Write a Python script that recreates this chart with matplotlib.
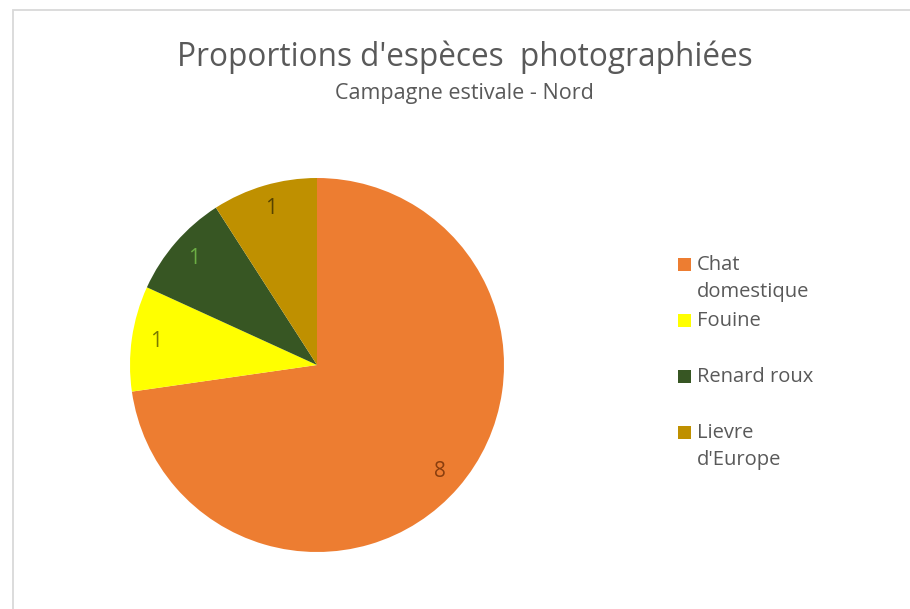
import textwrap
import matplotlib
matplotlib.use("Agg")
import matplotlib.pyplot as plt
from matplotlib.patches import Rectangle

categories = ["Chat domestique", "Fouine", "Renard roux", "Lievre d'Europe"]
values = [8, 1, 1, 1]
colors = ["#ED7D31", "#FFFF00", "#375623", "#BF9000"]
label_colors = ["#8A3E0E", "#7A7A00", "#6CAE44", "#574300"]
title = "Proportions d'espèces  photographiées"
subtitle = "Campagne estivale - Nord"

W, H = 910, 609
fig = plt.figure(figsize=(W / 100, H / 100), dpi=100)
plt.rcParams['font.family'] = ['Open Sans', 'DejaVu Sans']

def fx(px):
    return px / W

def fy(py):
    return 1 - py / H

# border (top and left edges visible; the rest runs off the image)
fig.patches.append(Rectangle((fx(13), fy(H + 20)), fx(W + 20), (H - 10 + 20) / H,
                             transform=fig.transFigure, fill=False, edgecolor="#D9D9D9", lw=1.3))

cx, cy, r = 317, 365, 187
ax = fig.add_axes([fx(cx - r), fy(cy + r), 2 * r / W, 2 * r / H])
wedges, texts = ax.pie(values, colors=colors, startangle=90, counterclock=False,
                       labels=[str(v) for v in values], labeldistance=0.87,
                       wedgeprops=dict(linewidth=0),
                       textprops=dict(fontsize=15))
for t, c in zip(texts, label_colors):
    t.set_color(c)
    t.set_ha("center")
    t.set_va("center")
ax.set_xlim(-1, 1)
ax.set_ylim(-1, 1)
ax.set_aspect("equal")

fig.text(fx(465), fy(57), title, ha="center", va="center", fontsize=22.7, color="#595959")
fig.text(fx(464), fy(93), subtitle, ha="center", va="center", fontsize=15.5, color="#595959")

# legend
for i, (cat, col) in enumerate(zip(categories, colors)):
    y = 264.5 + 56 * i
    fig.patches.append(Rectangle((fx(678), fy(y + 6.5)), fx(13), 13 / H,
                                 transform=fig.transFigure, facecolor=col, edgecolor="none"))
    fig.text(fx(697), fy(y - 9), textwrap.fill(cat, 11), ha="left", va="top",
             fontsize=14.5, color="#595959", linespacing=1.45)

fig.savefig("out.png", dpi=100, facecolor="white")
